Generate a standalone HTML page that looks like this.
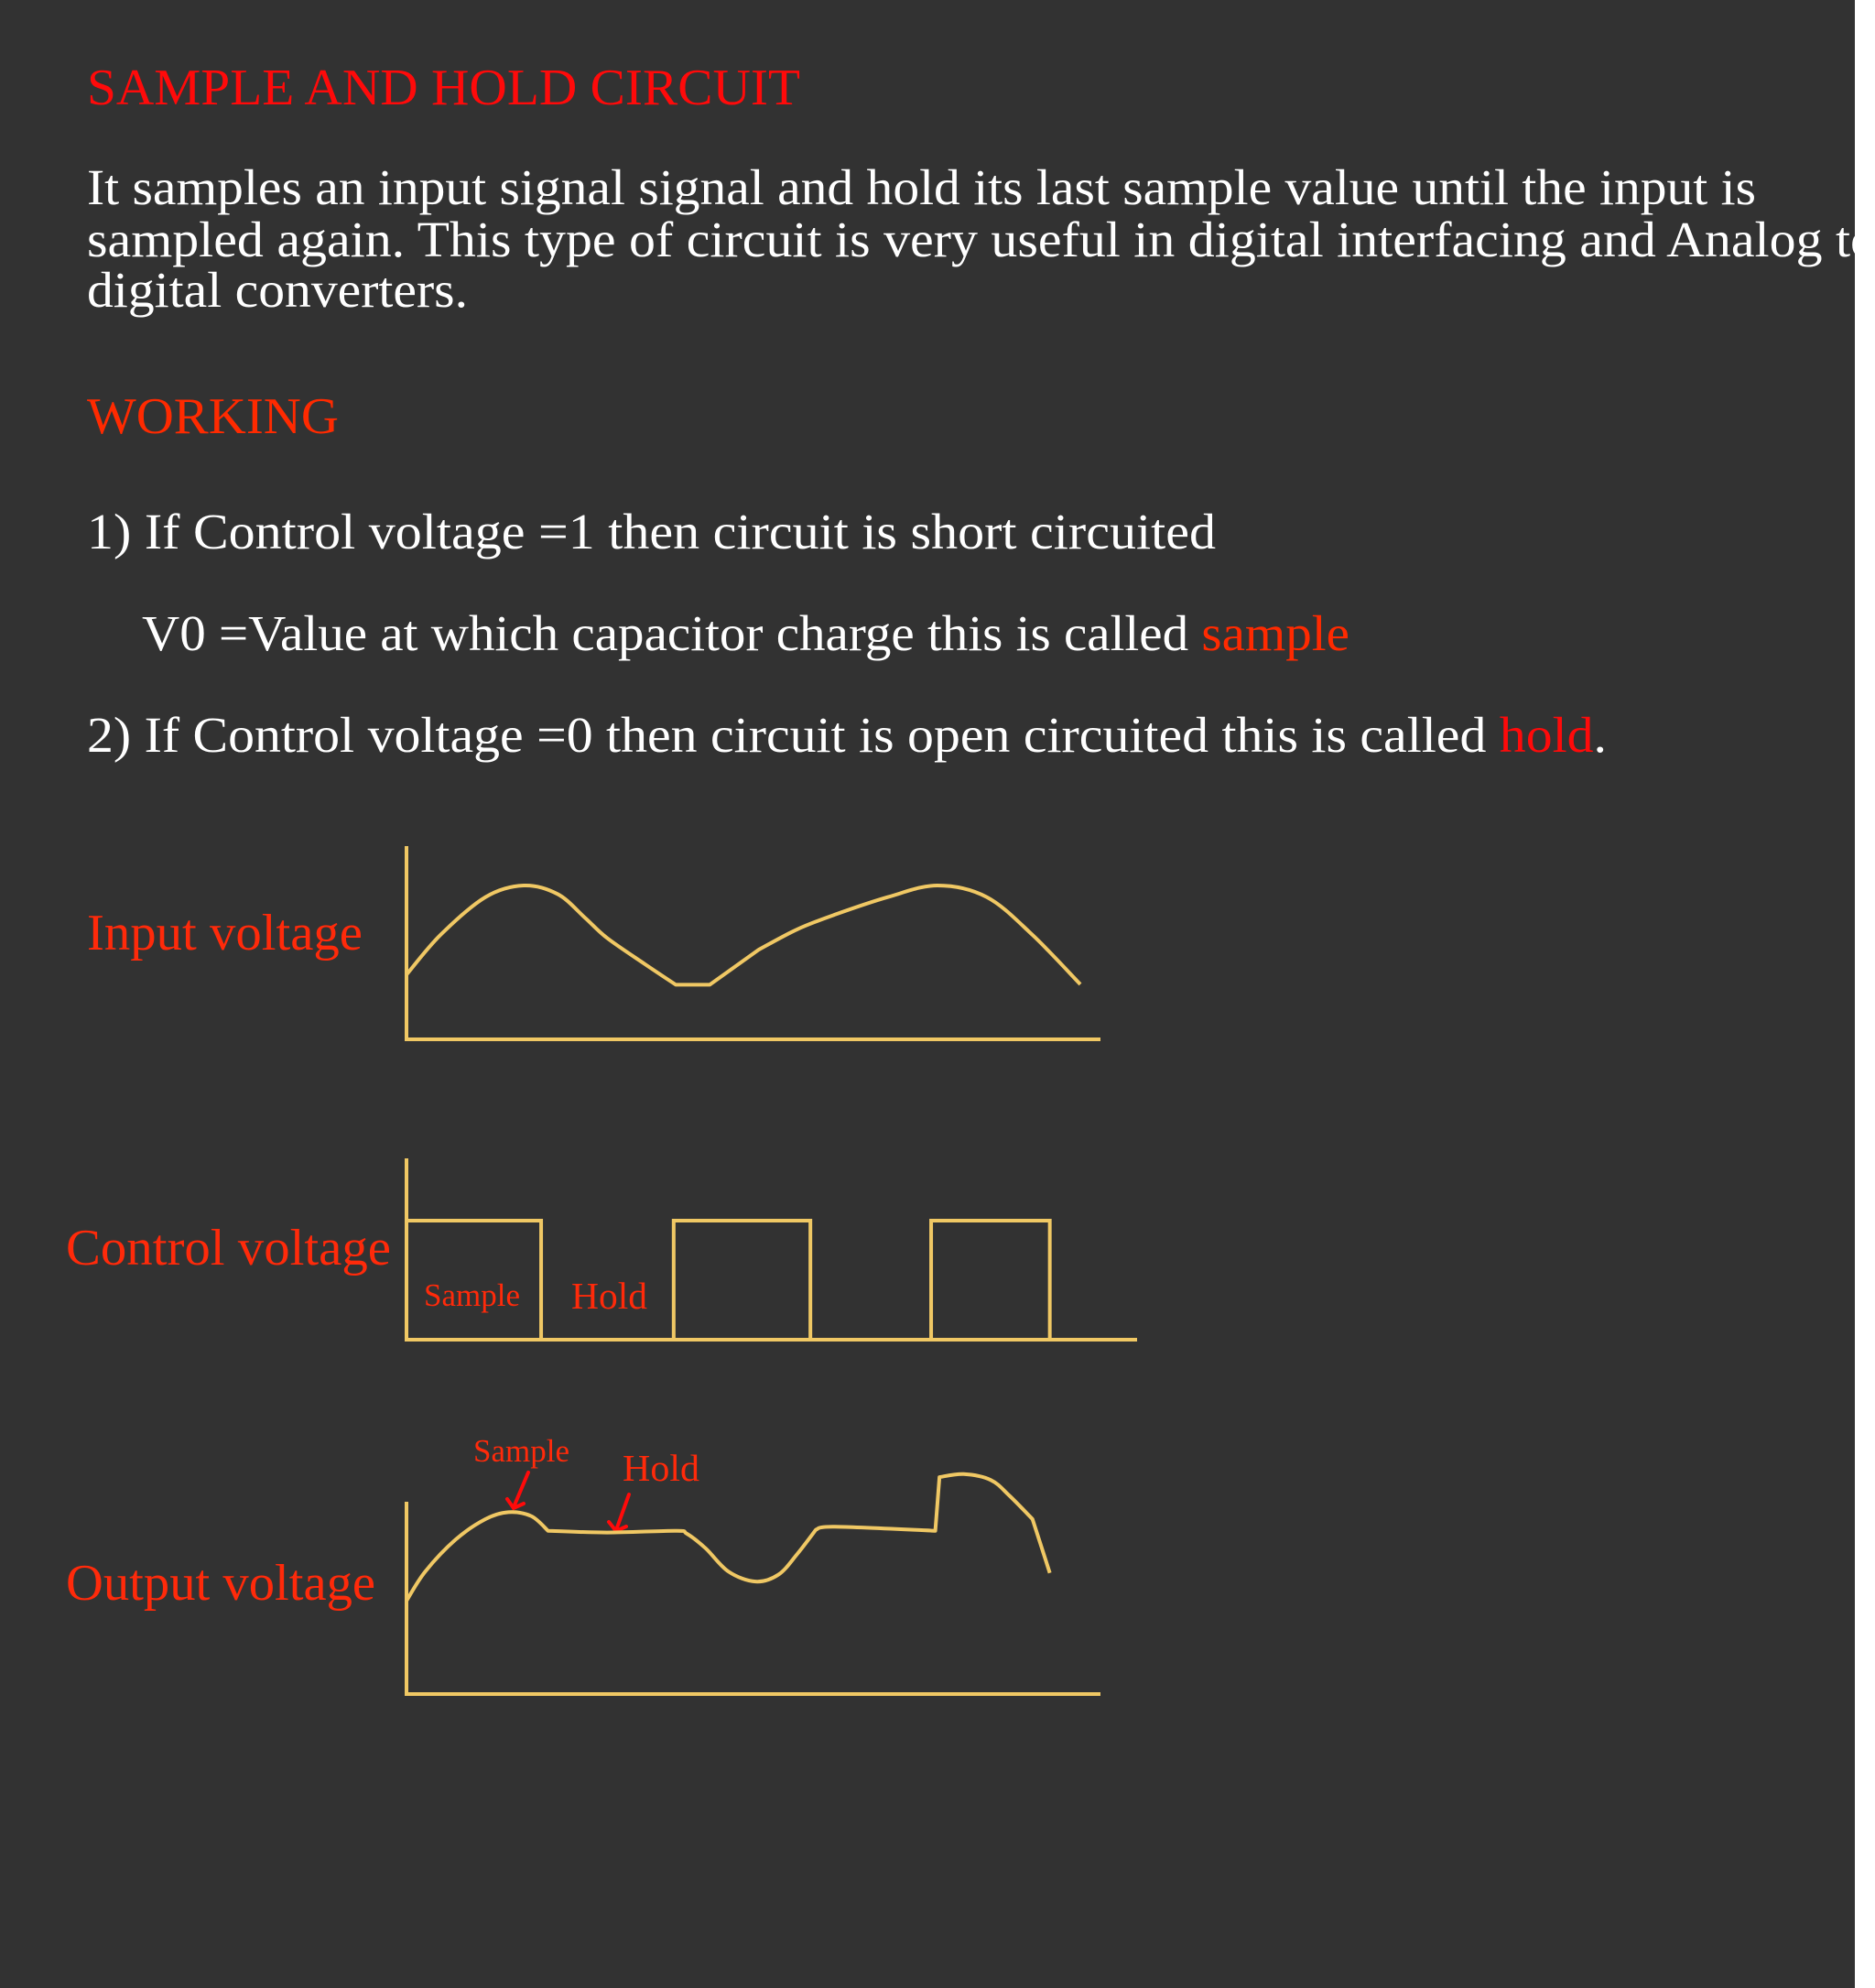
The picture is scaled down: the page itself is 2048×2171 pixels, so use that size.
<!DOCTYPE html>
<html><head><meta charset="utf-8"><style>
html,body{margin:0;padding:0;background:#fff;}
svg{display:block;}
text{font-family:"Liberation Serif","Times New Roman",serif;}
</style></head><body>
<svg id="page" width="2048" height="2171" viewBox="0 0 2048 2171" xmlns="http://www.w3.org/2000/svg">
<defs><clipPath id="clip"><rect x="0" y="0" width="2026" height="2171"/></clipPath></defs>
<rect x="0" y="0" width="2026" height="2171" fill="#323232"/>
<g clip-path="url(#clip)">
<text x="95" y="114" font-size="56" fill="#ff0a0a" textLength="779" lengthAdjust="spacingAndGlyphs">SAMPLE AND HOLD CIRCUIT</text>
<g fill="#ffffff" font-size="55">
<text x="95" y="223" textLength="1823" lengthAdjust="spacingAndGlyphs">It samples an input signal signal and hold its last sample value until the input is</text>
<text x="95" y="280" textLength="1955" lengthAdjust="spacingAndGlyphs">sampled again. This type of circuit is very useful in digital interfacing and Analog to</text>
<text x="95" y="335" textLength="416" lengthAdjust="spacingAndGlyphs">digital converters.</text>
</g>
<text x="95" y="473" font-size="56" fill="#ff2a00" textLength="275" lengthAdjust="spacingAndGlyphs">WORKING</text>
<text x="95" y="599" font-size="55" fill="#fff" textLength="1233" lengthAdjust="spacingAndGlyphs">1) If Control voltage =1 then circuit is short circuited</text>
<text x="155" y="710" font-size="55" fill="#fff" textLength="1319" lengthAdjust="spacingAndGlyphs">V0 =Value at which capacitor charge this is called <tspan fill="#ff2a00">sample</tspan></text>
<text x="95" y="821" font-size="55" fill="#fff" textLength="1660" lengthAdjust="spacingAndGlyphs">2) If Control voltage =0 then circuit is open circuited this is called  <tspan fill="#ff0a0a">hold</tspan>.</text>

<text x="95" y="1037" font-size="56" fill="#ff2a0a" textLength="301" lengthAdjust="spacingAndGlyphs">Input voltage</text>
<text x="72" y="1381" font-size="56" fill="#ff2a0a" textLength="355" lengthAdjust="spacingAndGlyphs">Control voltage</text>
<text x="72" y="1747" font-size="56" fill="#ff2a0a" textLength="338" lengthAdjust="spacingAndGlyphs">Output voltage</text>

<text x="463" y="1426" font-size="35" fill="#ff2a0a" textLength="105" lengthAdjust="spacingAndGlyphs">Sample</text>
<text x="624" y="1429" font-size="41" fill="#ff2a0a" textLength="83" lengthAdjust="spacingAndGlyphs">Hold</text>
<text x="517" y="1596" font-size="35" fill="#ff2a0a" textLength="105" lengthAdjust="spacingAndGlyphs">Sample</text>
<text x="680" y="1617" font-size="41" fill="#ff2a0a" textLength="84" lengthAdjust="spacingAndGlyphs">Hold</text>

<g stroke="#ff0a0a" stroke-width="4" fill="none" stroke-linecap="round">
<line x1="577" y1="1608" x2="561" y2="1646"/><polyline points="554,1637 561,1647 572,1642"/>
</g>
<g stroke="#ff0a0a" stroke-width="4" fill="none" stroke-linecap="round">
<line x1="687" y1="1632" x2="673" y2="1671"/><polyline points="665,1662 673,1672 684,1667"/>
</g>
<g id="charts"></g>
</g>
<rect x="2026" y="0" width="22" height="2171" fill="#ffffff"/>
</svg>
<script>
// Input voltage chart data (time 0-100, voltage 0-10)
const inputT = [0, 4.9, 11.4, 16.9, 21.8, 25.7, 28.9, 34.4, 38.8, 43.7, 50.8, 56.3, 61.7, 69.4, 76.5, 83.6, 90.2, 97.1];
const inputV = [3.36, 5.43, 7.4, 8.0, 7.55, 6.33, 5.27, 3.9, 2.84, 2.84, 4.67, 5.72, 6.48, 7.4, 8.0, 7.4, 5.43, 2.86];
const inputCorners = [8, 9, 10];
// Control voltage chart data: pulse edges (time) and levels
const controlEdges = [0, 19.4, 38.5, 58.2, 75.6, 92.7];
const controlLevels = [1, 0, 1, 0, 1, 0];
const controlEnd = 105;
// Output voltage chart data
const outputT = [0, 2.7, 7.1, 11.4, 14.7, 18.0, 20.4, 28.9, 38.8, 40.4, 43.1, 46.4, 50.3, 53.6, 56.3, 59.0, 61.7, 76.2, 76.8, 80.3, 84.2, 86.9, 90.2, 92.7];
const outputV = [4.85, 6.37, 8.04, 9.1, 9.46, 9.25, 8.49, 8.4, 8.49, 8.34, 7.58, 6.37, 5.85, 6.21, 7.28, 8.55, 8.7, 8.49, 11.28, 11.44, 11.13, 10.31, 9.1, 6.3];
const outputCorners = [6, 15, 17, 18, 22];

const NS = 'http://www.w3.org/2000/svg';
const COLOR = '#f0c864';
const g = document.getElementById('charts');
const xScale = t => 444 + t * 7.58;
const yIn = v => 1135 - v * 21;
const yCtl = v => 1463 - v * 130;
const yOut = v => 1850 - v * 21;

function mk(tag, attrs) {
  const e = document.createElementNS(NS, tag);
  for (const k in attrs) e.setAttribute(k, attrs[k]);
  g.appendChild(e);
  return e;
}
function smoothRun(pts) {
  let d = '';
  for (let i = 0; i < pts.length - 1; i++) {
    const p0 = pts[Math.max(0, i - 1)], p1 = pts[i], p2 = pts[i + 1], p3 = pts[Math.min(pts.length - 1, i + 2)];
    const c1x = p1[0] + (p2[0] - p0[0]) / 6, c1y = p1[1] + (p2[1] - p0[1]) / 6;
    const c2x = p2[0] - (p3[0] - p1[0]) / 6, c2y = p2[1] - (p3[1] - p1[1]) / 6;
    d += ' C' + c1x + ',' + c1y + ' ' + c2x + ',' + c2y + ' ' + p2[0] + ',' + p2[1];
  }
  return d;
}
function cornerPath(pts, corners) {
  let d = 'M' + pts[0][0] + ',' + pts[0][1];
  const breaks = [0].concat(corners, [pts.length - 1]);
  for (let k = 0; k < breaks.length - 1; k++) {
    d += smoothRun(pts.slice(breaks[k], breaks[k + 1] + 1));
  }
  return d;
}
function axes(name, top, bottom, xEnd) {
  const a = mk('polyline', {points: '444,' + top + ' 444,' + bottom + ' ' + xEnd + ',' + bottom, fill: 'none', stroke: COLOR, 'stroke-width': 4});
  
  
}
axes('input-axes', 924, 1135, 1202);
axes('control-axes', 1265, 1463, 1242);
axes('output-axes', 1640, 1850, 1202);

const inPts = inputT.map((t, i) => [xScale(t), yIn(inputV[i])]);
const inLine = mk('path', {d: cornerPath(inPts, inputCorners), fill: 'none', stroke: COLOR, 'stroke-width': 4, 'stroke-linejoin': 'round'});



let cp = [];
controlEdges.forEach((t, i) => {
  const prev = i === 0 ? controlLevels[0] : controlLevels[i - 1];
  cp.push(xScale(t) + ',' + yCtl(prev));
  cp.push(xScale(t) + ',' + yCtl(controlLevels[i]));
});
cp.push(xScale(controlEnd) + ',' + yCtl(controlLevels[controlLevels.length - 1]));
const ctl = mk('polyline', {points: cp.join(' '), fill: 'none', stroke: COLOR, 'stroke-width': 4});



const outPts = outputT.map((t, i) => [xScale(t), yOut(outputV[i])]);
const out = mk('path', {d: cornerPath(outPts, outputCorners), fill: 'none', stroke: COLOR, 'stroke-width': 4, 'stroke-linejoin': 'round'});


</script>
</body></html>
